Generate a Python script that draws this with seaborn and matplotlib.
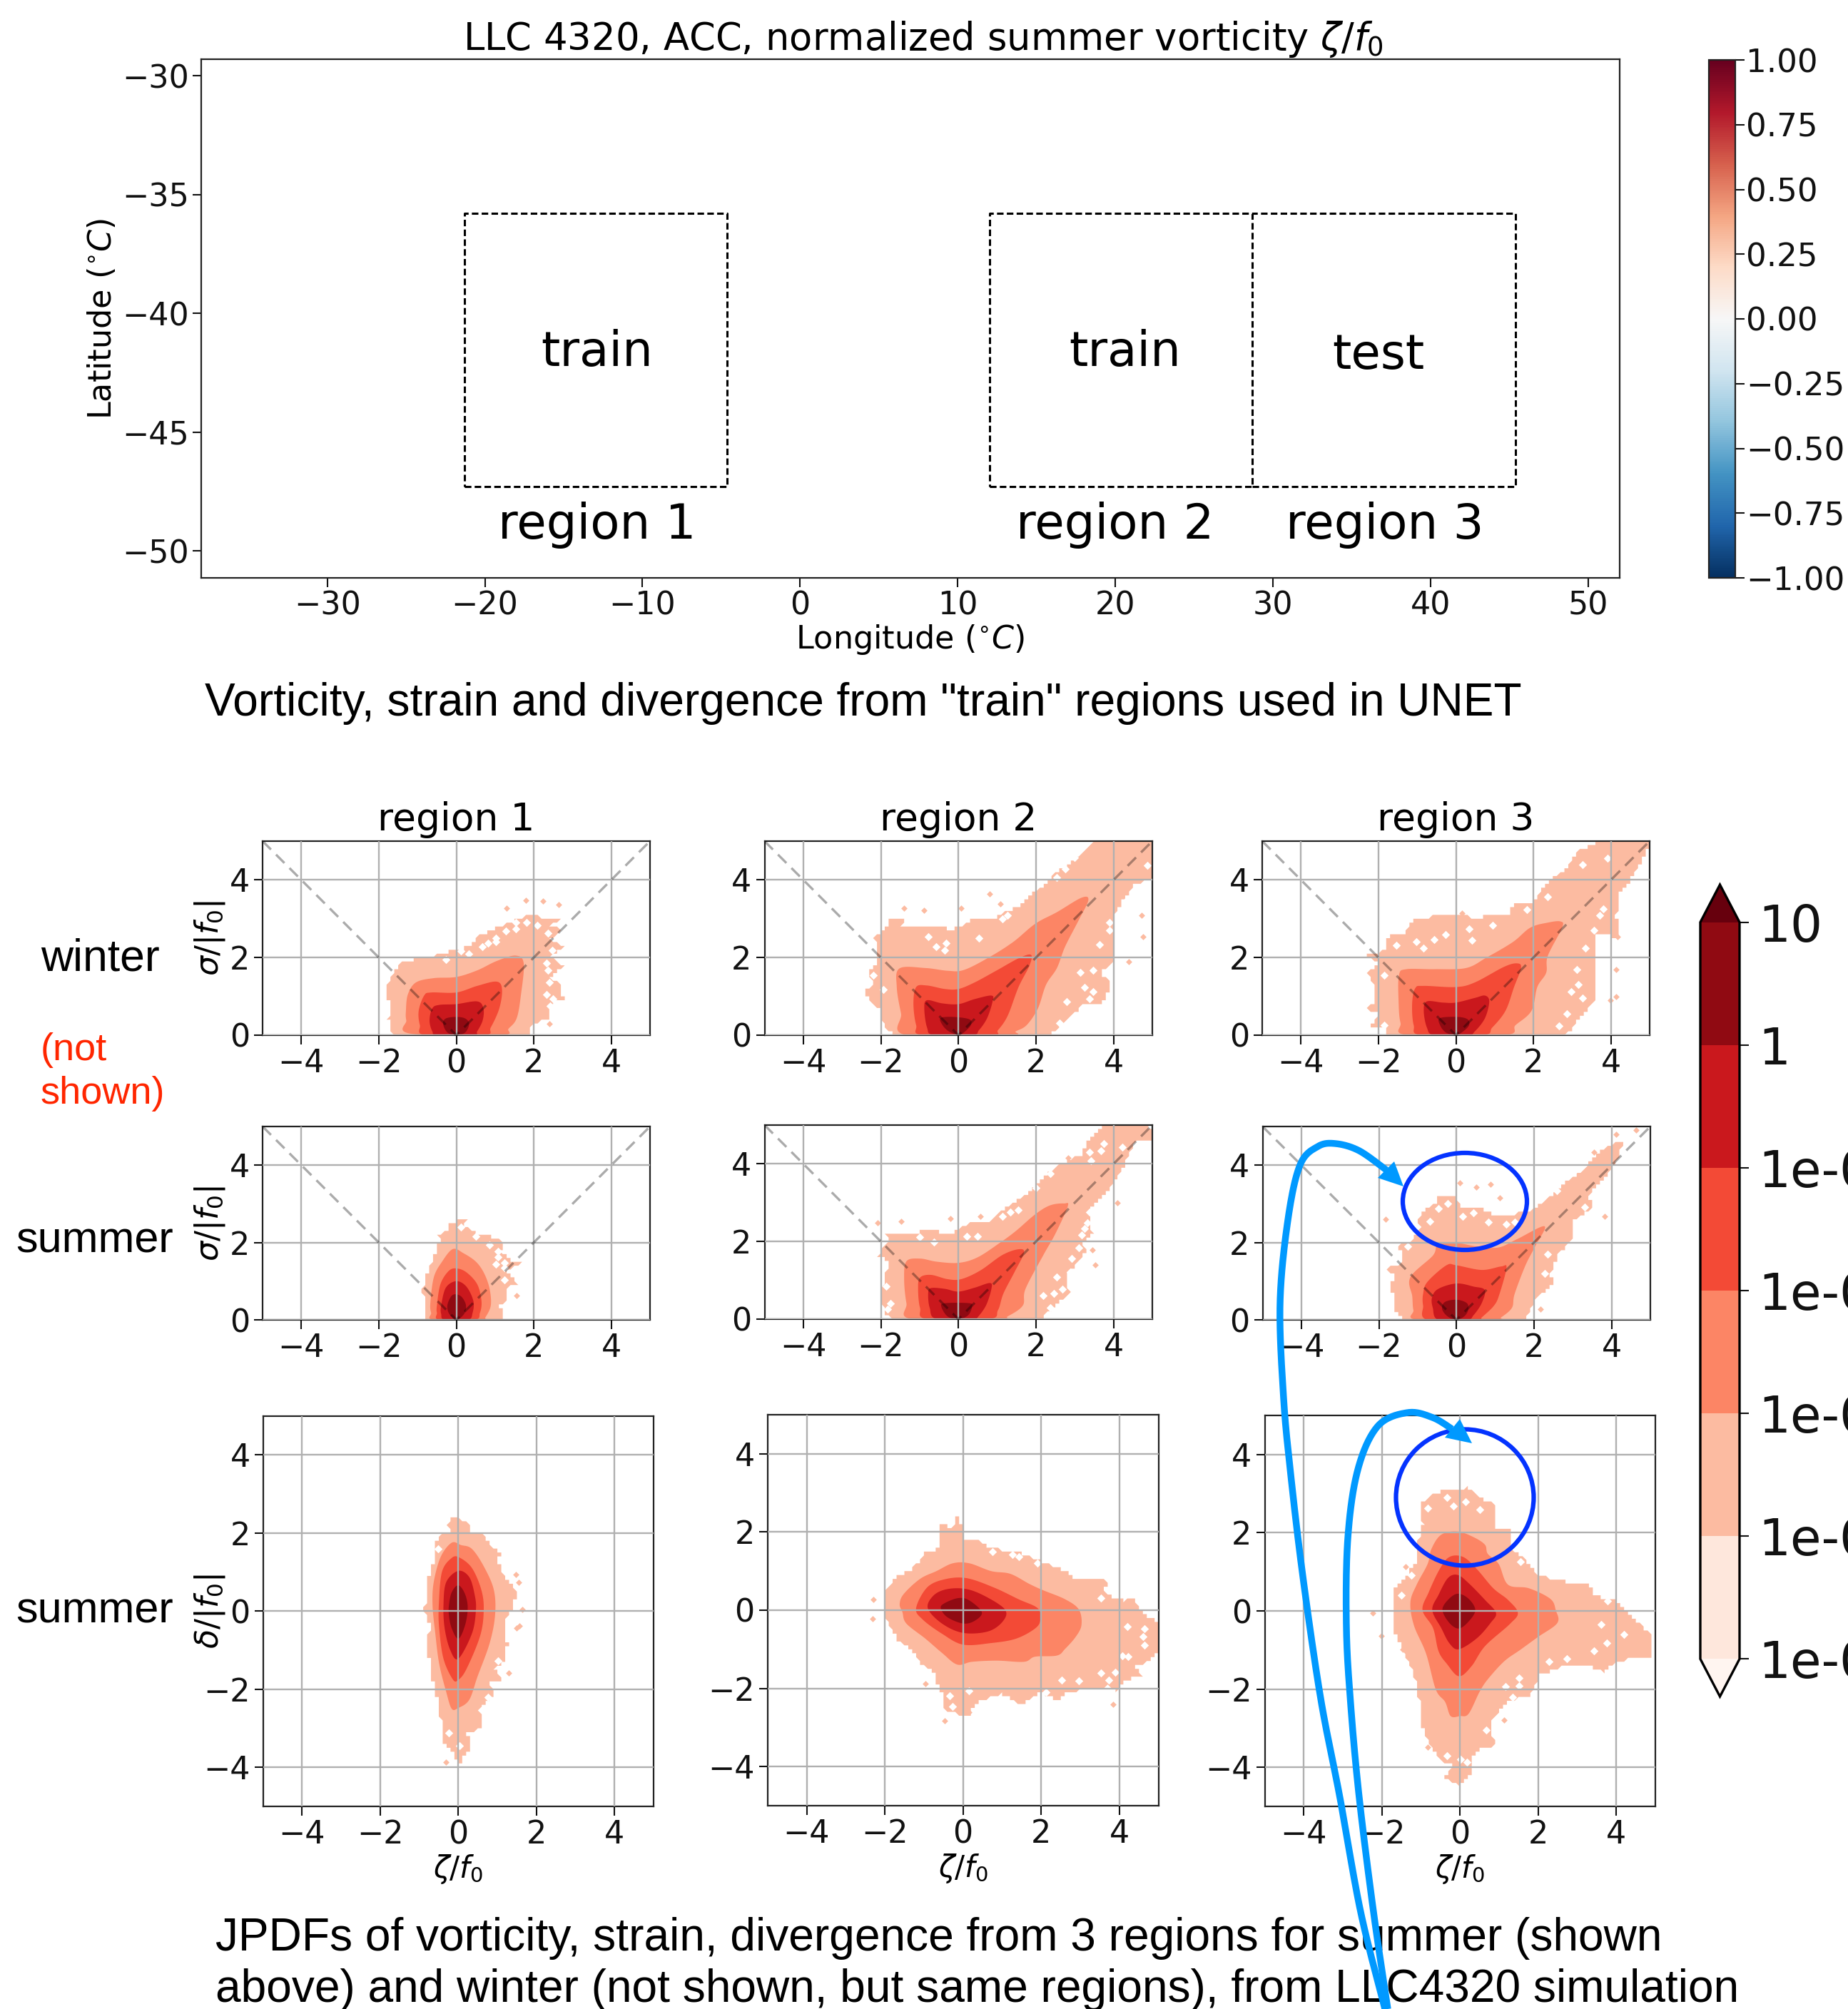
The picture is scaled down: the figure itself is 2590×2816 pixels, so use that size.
import numpy as np
import matplotlib
matplotlib.use('Agg')
import matplotlib.pyplot as plt
from matplotlib.cm import ScalarMappable
from matplotlib.colors import BoundaryNorm, ListedColormap, Normalize
from matplotlib.patches import Ellipse, Polygon
import seaborn as sns

W, H = 2590, 2816

# top map
lon_ticks = [-30, -20, -10, 0, 10, 20, 30, 40, 50]
lat_ticks = [-50, -45, -40, -35, -30]
box1_x = [-21.3, -4.63, -4.63, -21.3, -21.3]
box1_y = [-47.3, -47.3, -35.8, -35.8, -47.3]
box2_x = [12.03, 28.7, 28.7, 12.03, 12.03]
box2_y = [-47.3, -47.3, -35.8, -35.8, -47.3]
box3_x = [28.7, 45.4, 45.4, 28.7]
box3_y = [-47.3, -47.3, -35.8, -35.8]
map_labels = [('train', -12.9, -41.65), ('train', 20.6, -41.65), ('test', 36.7, -41.75),
              ('region 1', -12.9, -48.9), ('region 2', 20.0, -48.9), ('region 3', 37.1, -48.9)]
vort_ticks = [-1, -0.75, -0.5, -0.25, 0, 0.25, 0.5, 0.75, 1]

# jpdf colour levels
pdf_levels = [1e-5, 1e-4, 1e-3, 1e-2, 1e-1, 1, 10]
pdf_labels = ['1e-05', '1e-04', '1e-03', '1e-02', '1e-01', '1', '10']
panel_ticks = [-4, -2, 0, 2, 4]
v_x = [-5, 0, 5]
v_y = [5, 0, 5]

# contours: region / season, level 2 is the outermost, level 6 the darkest
r1w_6 = [(-.34,.29),(-.27,.43),(0,.47),(.23,.43),(.33,.29),(.23,.07),(0,0),(-.23,.07)]
r1w_5 = [(-.69,.38),(-.62,.69),(-.44,.78),(0,.80),(.54,.87),(.70,.69),(.68,.38),(.54,.10),(.44,0),(-.48,0),(-.62,.10)]
r1w_4 = [(-.97,.63),(-.83,1.02),(-.65,1.10),(0,1.10),(.54,1.27),(1.04,1.38),(1.18,1.18),(1.11,.69),(.89,.20),(.72,0),(-.80,0),(-.94,.26)]
r1w_3 = [(-1.30,.63),(-1.25,1.05),(-1.04,1.36),(-.58,1.47),(0,1.50),(.54,1.67),(1.04,1.91),(1.53,2.05),(1.74,1.85),(1.67,1.05),(1.56,.44),(1.35,.17),(1.14,0),(-1.18,.04),(-1.29,.38)]
r1w_2 = [(-1.64,.04),(-1.75,.44),(-1.68,.69),(-1.82,1.18),(-1.57,1.70),(-1.39,1.91),(-.73,2.0),(-.16,2.16),(.33,2.28),(.54,2.53),(1.17,2.83),(1.8,3.08),(2.16,3.05),(2.76,3.02),(2.41,2.83),(2.73,2.71),(2.45,2.47),(2.76,2.28),(2.45,2.04),(2.76,1.76),(2.42,1.48),(2.7,1.3),(2.76,.93),(2.37,.81),(2.37,.44),(1.95,.26),(1.88,0)]
r1w_holes = [(1.03,2.4),(.82,2.37),(1.03,2.5),(1.28,2.68),(1.53,2.74),(1.81,2.9),(2.09,2.83),(2.37,2.62),(2.47,2.19),(2.33,1.85),(2.37,1.67),(2.41,1.36),(2.33,1.05),(2.5,.93),(2.43,.75),(.68,2.28),(.33,2.1),(.12,2.16),(-.27,1.94),(1.53,2.9)]
r1w_specks = [(1.8,3.47),(2.24,3.45),(2.65,3.37),(1.3,3.28),(2.4,.3)]

r2w_6 = [(-.46,.44),(-.14,.47),(.28,.41),(.32,.26),(.14,.07),(0,0),(-.25,.10),(-.41,.26)]
r2w_5 = [(-.88,.69),(-.81,.90),(-.42,.82),(0,.80),(.42,.93),(.85,1.02),(.88,.87),(.74,.44),(.53,.13),(.35,0),(-.63,0),(-.81,.20)]
r2w_4 = [(-1.16,.81),(-1.09,1.24),(-.81,1.28),(-.35,1.19),(0,1.19),(.42,1.36),(.99,1.67),(1.55,1.98),(1.87,2.07),(1.83,1.79),(1.55,1.24),(1.27,.50),(1.02,.13),(.85,0),(-.92,0),(-1.09,.26)]
r2w_3 = [(-1.59,1.24),(-1.52,1.72),(-.85,1.73),(-.28,1.66),(.14,1.68),(.78,2.0),(1.41,2.40),(1.98,2.87),(2.54,3.17),(3.17,3.54),(3.35,3.48),(3.1,2.96),(2.75,2.28),(2.54,1.73),(2.26,1.30),(2.05,.69),(1.76,.26),(1.48,.1),(1.3,0),(-1.34,0),(-1.48,.56)]
r2w_2 = [(-1.69,.04),(-1.94,.26),(-1.98,.69),(-2.19,.75),(-2.43,1.12),(-2.19,1.30),(-2.33,1.61),(-2.12,1.85),(-2.1,2.40),(-2.19,2.53),(-1.98,2.68),(-1.76,2.9),(-1.76,3.05),(-1.38,3.05),(-1.48,2.77),(-.71,2.77),(-.14,2.74),(.35,2.96),(.78,2.96),(1.55,3.33),(1.98,3.69),(2.26,3.91),(2.47,4.18),(2.89,4.43),(3.25,4.74),(3.46,4.97),(5,4.97),(5,4.0),(4.55,3.91),(4.27,3.51),(4.02,3.08),(3.99,2.47),(4.02,1.91),(3.67,1.61),(3.96,1.30),(3.69,.81),(3.17,.75),(2.75,.38),(2.43,.07),(2.26,0)]
r2w_holes = [(4.37,3.51),(3.89,2.90),(3.89,2.71),(3.64,2.34),(3.47,1.67),(3.14,1.61),(3.25,1.24),(3.47,1.12),(2.79,.87),(3.39,.93),(2.96,.32),(2.61,.32),(-1.94,1.18),(-2.19,1.55),(-.32,2.37),(-.57,2.28),(-.35,2.19),(-.78,2.53),(.53,2.5),(1.13,3.0),(1.27,3.08),(2.54,4.06),(2.75,4.28),(3.0,4.58),(4.87,4.37),(4.09,3.02),(4.23,2.71)]
r2w_specks = [(.81,3.64),(-.88,3.21),(-1.41,3.28),(4.4,1.9),(4.76,2.53),(4.73,3.08),(.07,3.28),(1.09,3.39)]

r3w_6 = [(-.41,.26),(-.41,.44),(.04,.47),(.3,.41),(.34,.26),(.19,.10),(0,0),(-.26,.07)]
r3w_5 = [(-.83,.63),(-.75,.87),(-.34,.84),(0,.84),(.49,.96),(.75,1.02),(.86,.87),(.75,.44),(.49,.1),(.3,0),(-.56,0),(-.75,.2)]
r3w_4 = [(-1.13,.81),(-1.05,1.21),(-.83,1.27),(0,1.24),(.49,1.36),(1.24,1.76),(1.58,1.85),(1.68,1.73),(1.5,1.24),(1.28,.63),(.94,.2),(.68,0),(-.9,0),(-1.09,.26)]
r3w_3 = [(-1.48,.87),(-1.47,1.55),(-1.28,1.7),(-.56,1.7),(.26,1.73),(.79,2.0),(1.47,2.4),(1.92,2.77),(2.37,2.9),(2.7,2.93),(2.74,2.77),(2.37,2.04),(2.33,1.61),(2.1,1.24),(1.95,.63),(1.54,.26),(1.24,0),(-1.24,0),(-1.43,.32)]
r3w_2 = [(-1.77,0),(-1.84,.2),(-2.18,.23),(-2.1,.38),(-1.95,.63),(-2.37,.66),(-2.14,.81),(-2.1,1.3),(-2.3,1.6),(-2,1.85),(-2.33,2.04),(-1.84,2.19),(-1.77,2.53),(-1.32,2.65),(-1.09,2.99),(-.49,3.08),(.19,3.14),(.49,2.99),(.94,3.11),(1.39,3.08),(1.47,3.39),(2,3.45),(2.37,3.94),(2.89,4.31),(3.12,4.74),(3.65,4.97),(5,4.97),(4.96,4.8),(4.47,3.94),(4.21,3.63),(4.14,3.08),(4.25,2.53),(3.57,2.59),(3.57,1.91),(3.65,1.61),(3.65,1.0),(3.2,.44),(2.93,.07),(2.67,0)]
r3w_holes = [(.41,2.45),(.94,2.83),(-.26,2.59),(-.56,2.47),(-1.02,2.4),(-1.54,2.31),(-.83,2.25),(1.84,3.23),(2.37,3.57),(3.27,4.4),(3.91,4.55),(3.8,3.26),(3.72,3.08),(3.57,2.71),(3.35,2.25),(3.12,1.7),(2.97,1.12),(3.27,.96),(3.16,1.3),(2.86,.56),(2.67,.23),(-1.85,.26),(-1.85,1.55),(.34,2.74)]
r3w_specks = [(4.14,1.7),(4.14,1.0),(3.98,.9),(4.17,2.53),(.15,3.15)]

r1s_6 = [(-.23,.37),(-.13,.61),(0,.66),(.15,.58),(.25,.37),(.2,.15),(0,0),(-.18,.15)]
r1s_5 = [(-.39,.37),(-.27,.83),(0,1),(.26,.86),(.44,.49),(.42,.18),(.3,0),(-.3,0),(-.39,.15)]
r1s_4 = [(-.5,.37),(-.41,.92),(-.2,1.26),(0,1.33),(.26,1.23),(.54,.92),(.65,.49),(.61,.18),(.47,0),(-.44,0),(-.5,.18)]
r1s_3 = [(-.67,.43),(-.58,1.1),(-.37,1.5),(-.09,1.83),(.19,1.72),(.51,1.5),(.72,1.2),(.86,.8),(.89,.37),(.75,.06),(.68,0),(-.58,0),(-.65,.18)]
r1s_2 = [(-.76,0),(-.83,.31),(-.81,.55),(-.88,.74),(-.81,.98),(-.72,1.29),(-.65,1.5),(-.49,1.84),(-.43,2.15),(-.48,2.21),(-.16,2.33),(-.16,2.5),(.01,2.57),(.33,2.6),(.19,2.46),(.54,2.21),(.93,2.15),(1.25,2.03),(1.14,1.78),(1.45,1.5),(1.67,1.46),(1.32,1.29),(1.42,1.1),(1.6,.89),(1.35,.89),(1.28,.49),(1.14,.37),(1.18,0)]
r1s_holes = [(.12,2.4),(.51,2.15),(.86,1.94),(1.07,1.78),(1.07,1.63),(1.25,1.47),(1.03,1.44),(1.25,1.35),(1.25,1.04)]
r1s_specks = [(1.56,.63)]

r2s_6 = [(-.44,.32),(-.35,.41),(.28,.41),(.35,.32),(.25,.1),(0,0),(-.28,.07)]
r2s_5 = [(-.78,.66),(-.71,.8),(-.35,.78),(0,.71),(.42,.81),(.81,.93),(.85,.78),(.71,.35),(.49,.04),(.42,0),(-.56,0),(-.74,.29)]
r2s_4 = [(-1.04,.78),(-.99,1.07),(-.71,1.14),(-.28,1.03),(.07,1.03),(.56,1.25),(1.13,1.65),(1.55,1.8),(1.69,1.71),(1.45,1.22),(1.16,.66),(1.02,.23),(.78,0),(-.81,0),(-.99,.29)]
r2s_3 = [(-1.4,1.03),(-1.34,1.49),(-.99,1.56),(-.56,1.48),(0,1.45),(.49,1.59),(1.06,1.96),(1.48,2.27),(1.98,2.7),(2.36,2.93),(2.72,2.98),(2.82,2.91),(2.5,2.2),(2.19,1.65),(1.73,.78),(1.66,.35),(1.27,.07),(1.06,0),(-1.2,0),(-1.34,.41)]
r2s_2 = [(-1.55,0),(-1.9,.1),(-1.98,.54),(-1.93,1.03),(-1.76,1.52),(-2.08,1.59),(-1.9,1.9),(-1.76,1.99),(-1.9,2.2),(-1.27,2.2),(-.85,2.27),(-.14,2.23),(.21,2.45),(.85,2.54),(1.06,2.79),(1.41,2.98),(1.83,3.28),(2.19,3.62),(2.54,3.93),(3.17,4.24),(3.32,4.58),(3.74,4.98),(4.94,4.98),(5,4.6),(4.55,4.55),(4.37,4.18),(4.23,3.87),(4.02,3.56),(3.81,3.25),(3.46,2.94),(3.39,2.57),(3.46,2.2),(3.21,1.99),(3.28,1.71),(2.96,1.34),(2.75,1.03),(2.89,.66),(2.47,.35),(2.19,.1),(2.12,0)]
r2s_holes = [(3.74,4.52),(3.39,4.3),(3.67,4.33),(3.42,4.09),(4.23,4.43),(3.32,2.48),(3.25,2.33),(3.39,2.76),(3.17,2.17),(3.1,1.83),(2.93,1.56),(2.89,1.22),(2.54,1.09),(2.68,.78),(2.19,.6),(2.47,.66),(2.36,.29),(1.34,2.76),(1.13,2.64),(1.55,2.82),(-.63,1.99),(-.99,2.11),(.49,2.14),(.21,2.14),(2.01,3.38),(2.36,3.75),(-1.87,.85),(-1.83,.26),(-1.76,.41)]
r2s_specks = [(-2.08,2.48),(-1.48,2.52),(.56,2.64),(-.21,2.59),(3.53,1.4),(4.09,3.0),(3.46,1.79),(2.82,4.15)]

r3s_6 = [(-.37,.28),(-.3,.46),(0,.52),(.27,.43),(.3,.25),(.2,.09),(0,0),(-.23,.09)]
r3s_5 = [(-.63,.58),(-.47,.8),(0,.94),(.44,.86),(.73,.77),(.65,.43),(.44,.12),(.27,0),(-.47,0),(-.61,.31)]
r3s_4 = [(-.86,.67),(-.75,.98),(-.26,1.41),(0,1.41),(.65,1.29),(1.15,1.38),(1.29,1.35),(1.11,.67),(.97,.37),(.65,.06),(.58,0),(-.75,0),(-.86,.37)]
r3s_3 = [(-1.14,.61),(-1.19,1.1),(-.61,1.66),(-.47,1.96),(0,1.99),(.51,1.9),(1.08,1.87),(1.57,2.09),(2.27,2.42),(2.03,1.9),(1.78,1.41),(1.5,.67),(1.43,.31),(1.15,.06),(1.04,0),(-1,0),(-1.11,.25)]
r3s_2 = [(-1.28,0),(-1.49,.09),(-1.63,.37),(-1.67,.98),(-1.53,1.1),(-1.85,1.32),(-1.46,1.41),(-1.39,1.72),(-1.56,1.9),(-1.18,2.02),(-1.04,2.21),(-.93,2.39),(-1,2.58),(-.75,2.88),(-.47,3.07),(-.58,3.25),(.02,3.19),(.09,2.88),(.65,2.88),(1.01,2.7),(1.5,2.73),(1.71,2.82),(1.92,2.82),(2.42,3.19),(2.91,3.62),(3.34,3.93),(3.61,4.29),(3.96,4.54),(4.28,4.6),(4.21,4.23),(3.96,3.87),(3.75,3.62),(3.44,3.25),(3.47,2.88),(3.05,2.58),(2.98,2.09),(2.84,1.93),(2.63,1.72),(2.42,1.17),(2.5,.92),(1.99,.49),(1.82,.06),(1.78,0)]
r3s_holes = [(2.59,3.34),(3.3,2.91),(3.54,3.22),(3.08,3.9),(2.35,1.69),(2.27,1.2),(1.5,2.52),(1.29,2.48),(.83,2.53),(.44,2.76),(.16,2.67),(-.68,2.55),(-.47,2.88),(-.23,3.0),(-1.25,1.9)]
r3s_specks = [(.09,3.54),(.51,3.44),(.87,3.5),(1.11,3.16),(-1.83,2.6),(4.11,4.79),(4.63,4.9),(3.82,2.67),(3.54,4.33),(2.17,.28)]

r1d_6 = [(-.24,.15),(-.17,.48),(0,.66),(.17,.44),(.24,.08),(.17,-.37),(0,-.71),(-.17,-.44),(-.24,-.11)]
r1d_5 = [(-.38,.15),(-.31,.74),(0,1.03),(.28,.87),(.42,.41),(.45,.02),(.35,-.57),(0,-1.22),(-.21,-.99),(-.35,-.44)]
r1d_4 = [(-.5,.15),(-.42,1),(-.17,1.36),(.03,1.37),(.35,1.1),(.59,.54),(.65,.02),(.56,-.63),(.21,-1.48),(0,-1.76),(-.14,-1.75),(-.38,-1.22),(-.49,-.44)]
r1d_3 = [(-.66,.15),(-.63,.74),(-.45,1.39),(-.17,1.75),(.07,1.69),(.35,1.59),(.66,1.13),(.91,.54),(.94,-.11),(.8,-.83),(.49,-1.68),(.28,-2.27),(0,-2.48),(-.17,-2.5),(-.31,-2.07),(-.49,-1.35),(-.59,-.57)]
r1d_2 = [(-.87,0),(-.8,.48),(-.73,1.1),(-.56,1.36),(-.65,1.59),(-.45,1.98),(-.17,2.01),(-.31,2.21),(-.1,2.49),(0,2.36),(.17,2.27),(.31,2.24),(.28,2.01),(.63,1.95),(.87,1.62),(1.08,1.49),(1.01,1.26),(1.19,.87),(1.5,.48),(1.4,.05),(1.26,-.11),(1.19,-.44),(1.26,-.83),(1.22,-1.22),(.94,-1.48),(1.12,-1.75),(.84,-1.84),(.87,-2.2),(.63,-2.4),(.56,-2.99),(.24,-3.12),(.28,-3.51),(.03,-3.91),(-.14,-3.61),(-.38,-3.38),(-.42,-2.99),(-.49,-2.4),(-.63,-1.94),(-.73,-1.29),(-.84,-.76),(-.7,-.44)]
r1d_holes = [(-.24,-3.12),(.03,-3.44),(.59,-2.54),(.77,-2.2),(1.01,-1.27),(-.52,1.59)]
r1d_specks = [(1.47,.93),(1.54,.74),(1.64,.05),(1.5,-.44),(1.57,-.37),(1.29,-1.58),(-.31,-3.87)]

r2d_6 = [(-.57,.05),(-.47,.18),(-.12,.31),(.16,.25),(.48,-.05),(.3,-.27),(0,-.34),(-.4,-.18)]
r2d_5 = [(-.9,.05),(-.75,.38),(-.4,.54),(.09,.54),(.58,.35),(1.07,.02),(1.03,-.27),(.65,-.54),(0,-.58),(-.54,-.34)]
r2d_4 = [(-1.2,.05),(-.92,.58),(-.47,.79),(.09,.82),(.79,.58),(1.42,.28),(1.91,.05),(1.98,-.24),(1.84,-.47),(1.35,-.73),(.72,-.84),(0,-.88),(-.54,-.6),(-1.03,-.24)]
r2d_3 = [(-1.62,.15),(-1.52,.41),(-1.1,.8),(-.68,1),(-.26,1.2),(.16,1.2),(.72,1),(1.21,.93),(1.7,.67),(2.05,.51),(2.61,.28),(2.96,.02),(3.03,-.37),(2.89,-.67),(2.61,-.99),(2.4,-1.16),(1.84,-1.19),(1.56,-1.32),(.86,-1.29),(.23,-1.32),(-.15,-1.39),(-.54,-1.09),(-.96,-.73),(-1.45,-.34),(-1.55,-.05)]
r2d_2 = [(-1.97,-.24),(-2.01,.48),(-1.69,.87),(-1.38,1),(-1.17,1.2),(-.96,1.49),(-.68,1.49),(-.57,1.98),(-.64,2.08),(-.47,2.24),(-.29,2.05),(-.12,2.47),(-.01,2.05),(.02,1.78),(.37,1.78),(.72,1.59),(1.49,1.46),(1.98,1.26),(2.61,1),(2.89,.8),(3.52,.84),(3.7,.67),(3.56,.48),(3.94,.28),(4.11,.25),(4.4,.28),(4.57,-.05),(5,-.31),(4.95,-1.09),(4.64,-1.35),(4.36,-1.35),(4.57,-1.68),(4.08,-1.81),(3.94,-2.07),(3.73,-1.94),(3.1,-2.01),(2.61,-2.14),(2.4,-2.33),(1.98,-2.07),(1.52,-2.43),(1,-2.14),(.3,-2.37),(.2,-2.66),(-.15,-2.66),(-.47,-2.53),(-.47,-2.2),(-.68,-1.88),(-.68,-1.61),(-1.03,-1.42),(-1.31,-1.03),(-1.66,-.76)]
r2d_holes = [(.76,1.5),(1.26,1.42),(1.42,1.36),(1.91,1.2),(3.52,.31),(4.2,-.42),(4.6,-.67),(4.64,-.47),(4.64,-.9),(4.08,-1.16),(3.52,-1.61),(2.96,-1.81),(2.52,-1.78),(3.73,-1.78),(3.9,-1.58),(4.22,-1.19),(-.34,-2.19),(-.26,-2.46),(.16,-2.07),(2.12,-2.1),(-2.09,.05)]
r2d_specks = [(-2.29,.28),(-2.32,-.21),(3.83,-2.4),(-.96,-1.88),(-.47,-2.82),(.16,-2.61)]

r3d_6 = [(-.45,.02),(-.31,.28),(-.06,.44),(.22,.31),(.39,.02),(.22,-.27),(-.03,-.45),(-.27,-.31)]
r3d_5 = [(-.71,.02),(-.55,.41),(-.31,.84),(-.06,.92),(.22,.71),(.64,.28),(.92,-.05),(.78,-.31),(.43,-.7),(-.03,-.98),(-.27,-.83),(-.48,-.44)]
r3d_4 = [(-.96,.02),(-.8,.48),(-.52,1.07),(-.27,1.38),(.08,1.38),(.43,1.07),(.85,.58),(1.23,.28),(1.48,-.05),(1.27,-.34),(.64,-.9),(.29,-1.42),(-.03,-1.67),(-.34,-1.35),(-.55,-1.03),(-.69,-.44)]
r3d_3 = [(-1.27,.22),(-1.11,.67),(-.83,1.2),(-.73,1.59),(-.48,1.95),(-.06,2.03),(.36,1.88),(.64,1.69),(.71,1.46),(.99,1.2),(1.23,.67),(1.76,.58),(2.31,.31),(2.45,.02),(2.49,-.31),(1.99,-.67),(1.55,-.99),(1.13,-1.29),(.71,-1.75),(.5,-2.07),(.22,-2.63),(0,-2.69),(-.24,-2.69),(-.38,-2.33),(-.62,-2.01),(-.87,-1.09),(-1.18,-.37)]
r3d_2 = [(-1.74,-.05),(-1.71,.22),(-1.74,.48),(-1.46,.77),(-1.11,1.26),(-1.04,1.92),(-.94,2.24),(-1.04,2.7),(-.76,2.93),(-.41,3.09),(-.03,3.1),(.18,3.16),(.57,2.86),(.85,2.76),(.88,2.57),(.88,2.05),(1.34,2.08),(1.3,1.59),(1.62,1.39),(1.97,.93),(2.59,.77),(3.36,.64),(3.43,.38),(3.99,.28),(4.27,-.05),(4.59,-.31),(4.94,-.63),(4.9,-1.16),(3.99,-1.29),(3.71,-1.58),(3.29,-1.39),(2.59,-1.45),(2.03,-1.65),(1.83,-2.14),(1.2,-2.33),(.78,-2.86),(.88,-3.44),(.36,-3.58),(.32,-4.16),(-.03,-4.46),(-.41,-4.26),(-.2,-3.97),(-.48,-3.84),(-.76,-3.44),(-1.01,-2.89),(-1.04,-2.27),(-1.18,-1.61),(-1.46,-1.03),(-1.74,-.37)]
r3d_holes = [(-.34,2.91),(-.17,2.69),(.15,2.8),(.5,2.6),(-.83,2.63),(-1.5,.41),(-1.25,.92),(1.55,1.26),(3.61,-.34),(3.75,-.83),(4.2,-.6),(3.43,-1.03),(2.73,-1.22),(2.28,-1.29),(1.51,-1.71),(1.16,-1.94),(1.51,-1.91),(1.34,-2.2),(.67,-3.05),(-.34,-3.71),(.01,-3.8),(.18,-3.87),(3.78,.25)]
r3d_specks = [(-2.23,-.05),(-2.02,-.63),(-1.46,-.99),(-1.39,1.13),(1.13,-2.79),(-.83,-3.48)]

# blue annotations, read in image pixels
arrow1_pts = [(1941,2816),(1907,2680),(1878,2520),(1851,2381),(1826,2210),(1809,2067),(1799,1960),(1794,1827),(1805,1710),(1822,1633),(1847,1607),(1872,1603),(1905,1613),(1943,1640)]
arrow1_head = [(1967,1663),(1954,1628),(1931,1651)]
arrow2_pts = [(1945,2816),(1925,2680),(1905,2520),(1893,2389),(1887,2281),(1889,2156),(1903,2060),(1931,1999),(1973,1980),(2008,1987),(2035,2003)]
arrow2_head = [(2063,2023),(2046,1989),(2025,2015)]
circle1 = (2053, 1684, 174, 136)
circle2 = (2053, 2099, 193, 191)


def box(l, t, r, b, **kw):
    return fig.add_axes([l / W, 1 - b / H, (r - l) / W, (b - t) / H], **kw)


def spline(pts, closed=False):
    # catmull-rom through the read points
    if closed:
        p = np.array(pts[-1:] + pts + pts[:2], dtype=float)
    else:
        p = np.array([pts[0]] + pts + [pts[-1]], dtype=float)
    out = []
    for i in range(1, len(p) - 2):
        t = np.linspace(0, 1, 20)[:, None]
        out.append(0.5 * (2 * p[i] + (p[i + 1] - p[i - 1]) * t
                          + (2 * p[i - 1] - 5 * p[i] + 4 * p[i + 1] - p[i + 2]) * t ** 2
                          + (3 * p[i] - p[i - 1] - 3 * p[i + 1] + p[i + 2]) * t ** 3))
    return np.vstack(out)


def blocky(pts, cell=0.1):
    # outer contour sits on the histogram bins, so snap its edge to the bin grid
    p = np.array(pts + pts[:1], dtype=float)
    out = []
    for a, b in zip(p[:-1], p[1:]):
        n = max(int(np.hypot(*(b - a)) / (cell / 2)), 1)
        for f in np.linspace(0, 1, n, endpoint=False):
            out.append(np.round((a + (b - a) * f) / cell) * cell)
    return np.array(out)


sns.set_theme(style='ticks', rc={'axes.edgecolor': '#222222', 'axes.linewidth': 1.6,
                                 'xtick.color': '#111111', 'ytick.color': '#111111',
                                 'text.color': 'black', 'axes.labelcolor': 'black'})
plt.rcParams['font.family'] = ['DejaVu Sans']
plt.rcParams['mathtext.fontset'] = 'dejavusans'

reds = sns.color_palette('Reds', as_cmap=True)
band_colors = [reds((i + 0.5) / 6) for i in range(6)]

fig = plt.figure(figsize=(W / 100, H / 100), dpi=100, facecolor='white')

# map panel
ax = box(282, 83, 2270, 810)
for bx, by in [(box1_x, box1_y), (box2_x, box2_y), (box3_x, box3_y)]:
    sns.lineplot(x=bx, y=by, sort=False, estimator=None, color='black', lw=2.2, linestyle=(0, (3, 1.5)), ax=ax)
ax.set_xlim(-38, 52)
ax.set_ylim(-51.13, -29.3)
ax.set_xticks(lon_ticks)
ax.set_yticks(lat_ticks)
ax.tick_params(labelsize=32, length=9, width=1.5)
for label, x, y in map_labels:
    ax.text(x, y, label, fontsize=48.5, ha='center', va='center')
ax.set_title(r'LLC 4320, ACC, normalized summer vorticity $\zeta/f_0$', fontsize=38, pad=2, x=0.509)
ax.set_xlabel(r'Longitude ($^{\circ}C$)', fontsize=32, labelpad=2)
ax.set_ylabel(r'Latitude ($^{\circ}C$)', fontsize=32, labelpad=4)

cax = box(2395, 84, 2432, 810)
cb = fig.colorbar(ScalarMappable(Normalize(-1, 1), sns.color_palette('RdBu_r', as_cmap=True)), cax=cax)
cb.set_ticks(vort_ticks)
cb.set_ticklabels(['%.2f' % v if v >= 0 else '\u2212%.2f' % -v for v in vort_ticks])
cb.ax.tick_params(labelsize=32.5, length=9, width=1.5, pad=2)
cb.outline.set_linewidth(1.6)

# jpdf panels
panels = [
    ((368, 1179, 911, 1451), 'sigma', 'region 1', [r1w_2, r1w_3, r1w_4, r1w_5, r1w_6], r1w_holes, r1w_specks),
    ((1071.5, 1179, 1615, 1451), 'sigma', 'region 2', [r2w_2, r2w_3, r2w_4, r2w_5, r2w_6], r2w_holes, r2w_specks),
    ((1769, 1179, 2312, 1451), 'sigma', 'region 3', [r3w_2, r3w_3, r3w_4, r3w_5, r3w_6], r3w_holes, r3w_specks),
    ((368, 1579, 911, 1850), 'sigma', None, [r1s_2, r1s_3, r1s_4, r1s_5, r1s_6], r1s_holes, r1s_specks),
    ((1071.5, 1577, 1615, 1849), 'sigma', None, [r2s_2, r2s_3, r2s_4, r2s_5, r2s_6], r2s_holes, r2s_specks),
    ((1769.5, 1579, 2313, 1850), 'sigma', None, [r3s_2, r3s_3, r3s_4, r3s_5, r3s_6], r3s_holes, r3s_specks),
    ((368.7, 1984.5, 916, 2532), 'delta', None, [r1d_2, r1d_3, r1d_4, r1d_5, r1d_6], r1d_holes, r1d_specks),
    ((1075.7, 1983, 1623.7, 2531), 'delta', None, [r2d_2, r2d_3, r2d_4, r2d_5, r2d_6], r2d_holes, r2d_specks),
    ((1772.5, 1984, 2320, 2532), 'delta', None, [r3d_2, r3d_3, r3d_4, r3d_5, r3d_6], r3d_holes, r3d_specks),
]

for n, (pos, kind, title, contours, holes, specks) in enumerate(panels):
    ax = box(*pos)
    ax.set_xlim(-5, 5)
    ax.set_ylim((0, 5) if kind == 'sigma' else (-5, 5))
    for lev, poly in enumerate(contours):
        outline = blocky(poly) if lev == 0 else spline(poly, closed=True)
        ax.add_patch(Polygon(outline, closed=True, fc=band_colors[lev + 1], ec='none', zorder=1))
    hx, hy = zip(*holes)
    sx, sy = zip(*specks)
    sns.scatterplot(x=list(hx), y=list(hy), marker='D', s=34, color='white', linewidth=0, zorder=1.2, ax=ax, legend=False)
    sns.scatterplot(x=list(sx), y=list(sy), marker='D', s=20, color=band_colors[1], linewidth=0, zorder=1.2, ax=ax, legend=False)
    ax.set_xticks(panel_ticks)
    ax.set_yticks([0, 2, 4] if kind == 'sigma' else panel_ticks)
    ax.tick_params(labelsize=32, length=9, width=1.5, pad=4)
    ax.grid(True, color='#b0b0b0', lw=1.7)
    ax.set_axisbelow(False)
    if kind == 'sigma':
        sns.lineplot(x=v_x, y=v_y, sort=False, estimator=None, color='black', alpha=0.33, lw=2.4,
                     linestyle=(0, (5, 3)), zorder=3, ax=ax)
    if title:
        ax.set_title(title, fontsize=38.5, pad=11)
    if n % 3 == 0:
        ax.set_ylabel(r'$\sigma/|f_0|$' if kind == 'sigma' else r'$\delta/|f_0|$', fontsize=32)
        ax.yaxis.set_label_coords((318 - pos[0]) / (pos[2] - pos[0]), 0.5)
    if kind == 'delta':
        ax.set_xlabel(r'$\zeta/f_0$', fontsize=30, labelpad=3)

cax = box(2383, 1240, 2438, 2378)
pdf_cmap = ListedColormap(band_colors)
pdf_cmap.set_under(reds(0.0))
pdf_cmap.set_over(reds(1.0))
cb = fig.colorbar(ScalarMappable(BoundaryNorm(pdf_levels, pdf_cmap.N), pdf_cmap), cax=cax, extend='both',
                  spacing='uniform', extendfrac=0.051)
cb.set_ticks(pdf_levels)
cb.set_ticklabels(pdf_labels)
cb.ax.minorticks_off()
cb.ax.tick_params(labelsize=51, length=9, width=1.5, pad=10)
cb.outline.set_edgecolor('black')
cb.outline.set_linewidth(2.4)

# slide text and annotations on one pixel overlay
top = fig.add_axes([0, 0, 1, 1], facecolor='none', zorder=10)
top.set_xlim(0, W)
top.set_ylim(H, 0)
top.axis('off')
arial = 'Liberation Sans'
top.text(287, 986, 'Vorticity, strain and divergence from "train" regions used in UNET',
         family=arial, fontsize=46.1, va='center')
top.text(302, 2717, 'JPDFs of vorticity, strain, divergence from 3 regions for summer (shown',
         family=arial, fontsize=46.1, va='center', zorder=1)
top.text(302, 2789, 'above) and winter (not shown, but same regions), from LLC4320 simulation',
         family=arial, fontsize=46.1, va='center', zorder=1)
top.text(57, 1344, 'winter', family=arial, fontsize=45, va='center')
top.text(57, 1472, '(not', family=arial, fontsize=39, va='center', color='#FF2600')
top.text(57, 1533, 'shown)', family=arial, fontsize=39, va='center', color='#FF2600')
top.text(22, 1740, 'summer', family=arial, fontsize=44, va='center')
top.text(22, 2259, 'summer', family=arial, fontsize=44, va='center')

for pts, head in [(arrow1_pts, arrow1_head), (arrow2_pts, arrow2_head)]:
    curve = spline(pts)
    top.plot(curve[:, 0], curve[:, 1], color='#0099FF', lw=6.8, solid_capstyle='butt', zorder=5)
    top.add_patch(Polygon(head, closed=True, fc='#0099FF', ec='none', zorder=5))
for cx, cy, w, h in [circle1, circle2]:
    top.add_patch(Ellipse((cx, cy), w, h, fill=False, ec='#0433FF', lw=4.5, zorder=4))

fig.savefig('out.png', dpi=100)
